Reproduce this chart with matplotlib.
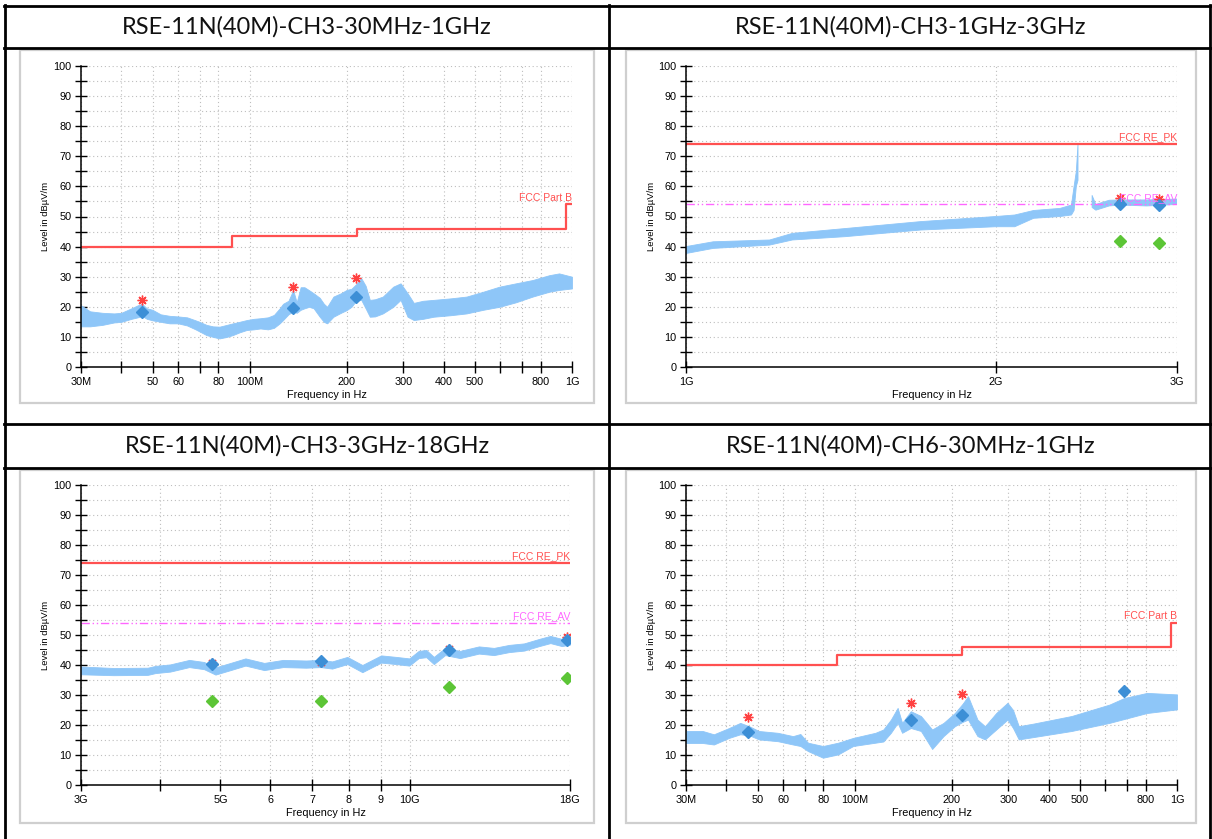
import numpy as np
import matplotlib
matplotlib.use("Agg")
import matplotlib.pyplot as plt
from matplotlib.lines import Line2D
from matplotlib.patches import Rectangle
from matplotlib.ticker import NullLocator

W, H = 1212, 839

# ---------------- data ----------------
titles = ["RSE-11N(40M)-CH3-30MHz-1GHz", "RSE-11N(40M)-CH3-1GHz-3GHz",
          "RSE-11N(40M)-CH3-3GHz-18GHz", "RSE-11N(40M)-CH6-30MHz-1GHz"]

# chart 1: CH3 30MHz-1GHz (MHz, dBuV/m)
c1_freq = [30, 32, 35, 38, 40, 43, 45, 46.4, 48, 50, 53, 56.5, 60, 64, 68, 70, 73.5, 77, 80.7, 85,
           88.7, 93, 98, 103, 108, 114, 119, 124, 127, 132, 136.5, 140, 144, 148, 153, 158, 165,
           170, 174, 182, 192, 200, 207, 214, 222, 229, 236, 245, 259, 279, 294, 309, 323, 345,
           372, 420, 471, 530, 596, 670, 755, 850, 912, 1000]
c1_low = [13.5, 13.5, 14, 14.8, 15, 16, 16.5, 17, 16, 15.5, 15, 14.5, 14.5, 13.8, 12.5, 11.8, 10.6,
          10, 9.5, 10, 10.6, 11.5, 12.3, 12.5, 12.8, 12.5, 13, 14.5, 15.6, 17.5, 18.5, 18, 19, 19.5,
          20, 19.5, 16.7, 15, 14.5, 16.7, 18, 18.9, 20, 22, 22.3, 19.5, 16.7, 16.8, 17.8, 20, 22.3,
          16.7, 15.6, 16, 16.7, 17.2, 17.8, 19, 20, 21.5, 23.4, 25, 25.6, 26.1]
c1_high = [20.5, 18.5, 18, 17.8, 18, 19.5, 20.5, 21, 19.5, 19, 17.5, 17, 16.8, 16.5, 15.5, 15, 14,
           13.5, 13.4, 14, 14.5, 15, 15.6, 16, 16.2, 16.5, 17.3, 19.5, 21, 22, 25.5, 21.5, 26.5,
           26.5, 25.5, 24.5, 23, 21, 20, 23.4, 24.5, 25.6, 26, 27.5, 29.5, 27, 22.3, 22.5, 23.4,
           26.7, 27.8, 24.5, 21.3, 22, 22.3, 22.8, 23.4, 25, 26.7, 27.8, 28.9, 30.5, 31.1, 30]
c1_lim_edges = [30, 88, 216, 960, 1000]
c1_lim_vals = [40, 43.5, 46, 54, 54]
c1_mk_freq = [46.4, 136.5, 214]
c1_mk_qp = [18.2, 19.5, 23.4]
c1_mk_pk = [22.3, 26.7, 29.5]

# chart 2: CH3 1GHz-3GHz (GHz)
c2_freq = [1.0, 1.063, 1.206, 1.269, 1.428, 1.69, 2.0, 2.087, 2.177, 2.31, 2.369, 2.383, 2.395, 2.404,
           np.nan, 2.481, 2.502, 2.578, 2.643, 2.804, 3.0]
c2_low = [37.7, 39.4, 40.5, 42.2, 43.3, 45.5, 46.6, 46.6, 49.4, 50, 50.5, 52, 60, 62,
          np.nan, 53, 52.1, 53.5, 53.8, 53.5, 54]
c2_high = [40, 41.6, 42.2, 44.4, 46, 48.3, 50, 50.5, 52, 52.7, 53.8, 60, 65, 74,
           np.nan, 57, 54, 55.4, 55.5, 55.5, 55.8]
c2_pk_limit = 74
c2_av_limit = 54
c2_mk_freq = [2.643, 2.881]
c2_mk_pk = [54.3, 53.8]
c2_mk_av = [42.0, 41.3]
c2_mk_star = [56.3, 55.9]

# chart 3: CH3 3GHz-18GHz (GHz)
c3_freq = [3.0, 3.38, 3.83, 3.94, 4.16, 4.46, 4.71, 4.91, 5.19, 5.48, 5.87, 6.29, 6.84, 7.22, 7.53,
           7.96, 8.41, 9.01, 9.52, 9.99, 10.34, 10.63, 10.93, 11.39, 12.03, 12.89, 13.62, 14.4,
           15.21, 16.08, 16.75, 17.47, 18.0]
c3_low = [36.9, 36.6, 36.7, 37.3, 37.8, 39.3, 38.6, 36.8, 38.3, 39.8, 38.3, 39.3, 39.1, 39.3, 38.8,
          40.3, 37.6, 40.8, 40.3, 39.8, 42.3, 42.6, 40.3, 43.3, 42.3, 43.8, 43.3, 44.3, 44.8, 46.3,
          47.3, 46.3, 46.8]
c3_high = [39.5, 39.0, 39.1, 39.7, 40.2, 41.7, 41.0, 39.2, 40.7, 42.2, 40.7, 41.7, 41.5, 41.7, 41.2,
           42.7, 40.0, 43.2, 42.7, 42.2, 44.7, 45.0, 42.7, 45.7, 44.7, 46.2, 45.7, 46.7, 47.2, 48.7,
           49.7, 48.7, 49.2]
c3_pk_limit = 74
c3_av_limit = 54
c3_mk_freq = [4.85, 7.24, 11.56, 17.82]
c3_mk_pk = [40.4, 41.4, 45.1, 48.5]
c3_mk_av = [28.0, 28.0, 32.7, 35.6]
c3_mk_star = [40.6, 41.0, 45.3, 49.3]

# chart 4: CH6 30MHz-1GHz (MHz)
c4_freq = [30, 33.8, 36.6, 40.8, 44.2, 47.3, 50.5, 57.8, 64.4, 67.9, 71.7, 79.8, 88.9, 99, 116,
           122.8, 129.6, 136, 140.4, 149.4, 160.6, 174, 188.7, 204.6, 216, 224.8, 240.5, 253.8,
           275, 298, 310, 323, 360, 471, 617, 686, 807, 1000]
c4_low = [14, 14, 13.5, 15.7, 16.9, 16.5, 15.2, 14.6, 13.5, 13, 11.3, 9.1, 10.2, 13, 14.1, 14.5,
          17.4, 20.7, 17.4, 19, 18, 12, 16.3, 19.6, 21, 21.8, 16.3, 15.2, 18.5, 21.8, 19, 15.2,
          16, 18, 20.7, 22, 24, 25.2]
c4_high = [18, 18, 16.9, 19, 20.7, 19.5, 18, 17.4, 16.3, 17, 14.1, 13, 14.1, 15.7, 17.4, 18.5,
           21.8, 25.7, 20.7, 24.6, 23, 18.5, 20.7, 24, 27, 29.6, 21.8, 19.6, 24, 27.4, 25, 19.6,
           20.5, 23, 26.8, 29, 30.7, 30.2]
c4_lim_edges = [30, 88, 216, 960, 1000]
c4_lim_vals = [40, 43.5, 46, 54, 54]
c4_mk_freq = [46.6, 149.4, 216, 686]
c4_mk_qp = [17.6, 21.6, 23.2, 31.5]
c4_mk_pk = [22.6, 27.2, 30.3, np.nan]

# tick definitions (values in Hz)
ticks_30m = [30e6, 40e6, 50e6, 60e6, 70e6, 80e6, 100e6, 200e6, 300e6, 400e6, 500e6, 600e6,
             700e6, 800e6, 1e9]
labels_30m = ["30M", "", "50", "60", "", "80", "100M", "200", "300", "400", "500", "", "",
              "800", "1G"]
ticks_1g = [1e9, 2e9, 3e9]
labels_1g = ["1G", "2G", "3G"]
ticks_3g = [3e9, 4e9, 5e9, 6e9, 7e9, 8e9, 9e9, 10e9, 18e9]
labels_3g = ["3G", "", "5G", "6", "7", "8", "9", "10G", "18G"]

# ---------------- styles ----------------
TRACE = "#8EC6F8"
LIMIT = "#FF5050"
AVC = "#FF66FF"
BLUE = "#3D8FD6"
GREEN = "#5CC536"
GRID = "#BEBEBE"

fig = plt.figure(figsize=(W / 100, H / 100), dpi=100)
fig.patch.set_facecolor("white")


def fx(x):
    return x / W


def fy(y):
    return 1 - y / H


def hline(y, x0, x1, lw=2.0):
    fig.add_artist(Line2D([fx(x0), fx(x1)], [fy(y), fy(y)], color="black", lw=lw,
                          transform=fig.transFigure))


def vline(x, y0, y1, lw=2.0):
    fig.add_artist(Line2D([fx(x), fx(x)], [fy(y0), fy(y1)], color="black", lw=lw,
                          transform=fig.transFigure))


# table grid
for yy in (6, 48, 424, 468):
    hline(yy, 4, 1212)
for xx in (5, 609, 1210):
    vline(xx, 5, 839)

# titles
title_pos = [(307, 27), (911, 27), (307, 446), (911, 446)]
for t, (tx, ty) in zip(titles, title_pos):
    fig.text(fx(tx), fy(ty), t, ha="center", va="center", fontsize=17,
             family="Lato", color="#111111")

# panels
panels = [(20, 50, 594, 403), (626, 50, 1196, 403), (20, 470, 594, 823), (626, 470, 1196, 823)]
for (px0, py0, px1, py1) in panels:
    fig.add_artist(Rectangle((fx(px0), fy(py1)), fx(px1 - px0), (py1 - py0) / H,
                             transform=fig.transFigure, fill=False, edgecolor="#CFCFCF", lw=1.6))

axes_px = [(81, 66, 572, 367), (686, 66, 1177, 367), (81, 485, 570, 785), (686, 485, 1177, 785)]


def make_axes(box, xmin, xmax, ticks, labels):
    x0, y0, x1, y1 = box
    ax = fig.add_axes([fx(x0), fy(y1), (x1 - x0) / W, (y1 - y0) / H])
    ax.set_xscale("log")
    ax.set_xlim(xmin, xmax)
    ax.set_ylim(0, 100)
    ax.set_xticks(ticks)
    ax.set_xticklabels(labels)
    ax.xaxis.set_minor_locator(NullLocator())
    ax.set_yticks(range(0, 101, 10))
    ax.set_yticks(range(5, 100, 10), minor=True)
    for s in ("top", "right"):
        ax.spines[s].set_visible(False)
    for s in ("left", "bottom"):
        ax.spines[s].set_linewidth(1.1)
        ax.spines[s].set_zorder(5)
    ax.tick_params(axis="both", which="both", direction="inout", length=8, width=1.0,
                   labelsize=7.8, pad=3)
    for lab in ax.get_xticklabels() + ax.get_yticklabels():
        lab.set_family("Liberation Sans")
    ax.grid(True, which="both", linestyle=(0, (1, 2.5)), color=GRID, lw=0.8)
    ax.set_axisbelow(True)
    ax.patch.set_alpha(0)
    cx = (x0 + x1) / 2
    fig.text(fx(cx), fy(y1 + 28), "Frequency in Hz", ha="center", va="center",
             fontsize=7.8, family="Liberation Sans")
    fig.text(fx(x0 - 35), fy((y0 + y1) / 2), "Level in dB\u00b5V/m", ha="center", va="center",
             rotation=90, fontsize=6.8, family="Liberation Sans")
    return ax


def limit_text(ax, xmax, y, text, color):
    ax.text(xmax, y + 0.6, text, ha="right", va="bottom", color=color, fontsize=7.5,
            family="Liberation Sans", zorder=6)


# ---- chart 1 ----
ax1 = make_axes(axes_px[0], 30e6, 1e9, ticks_30m, labels_30m)
f1 = np.array(c1_freq) * 1e6
ax1.fill_between(f1, c1_low, c1_high, color=TRACE, lw=0.6, edgecolor=TRACE, zorder=2)
ax1.step(np.array(c1_lim_edges) * 1e6, c1_lim_vals, where="post", color=LIMIT, lw=1.6, zorder=3)
limit_text(ax1, 1e9, 54, "FCC Part B", LIMIT)
ax1.plot(np.array(c1_mk_freq) * 1e6, c1_mk_pk, ls="none", marker=(8, 2, 0), ms=7,
         mec="#FF4040", mew=1.0, zorder=4)
ax1.plot(np.array(c1_mk_freq) * 1e6, c1_mk_qp, ls="none", marker="D", ms=6, mfc=BLUE,
         mec=BLUE, zorder=5)

# ---- chart 2 ----
ax2 = make_axes(axes_px[1], 1e9, 3e9, ticks_1g, labels_1g)
f2 = np.array(c2_freq) * 1e9
ax2.fill_between(f2, c2_low, c2_high, color=TRACE, lw=0.6, edgecolor=TRACE, zorder=2)
ax2.axhline(c2_pk_limit, color=LIMIT, lw=1.6, zorder=3)
ax2.axhline(c2_av_limit, color=AVC, lw=1.0, ls=(0, (6, 2, 1, 2, 1, 2)), zorder=3)
limit_text(ax2, 3e9, c2_pk_limit, "FCC RE_PK", LIMIT)
limit_text(ax2, 3e9, c2_av_limit, "FCC RE_AV", AVC)
ax2.plot(np.array(c2_mk_freq) * 1e9, c2_mk_star, ls="none", marker=(8, 2, 0), ms=7,
         mec="#FF4040", mew=1.0, zorder=4)
ax2.plot(np.array(c2_mk_freq) * 1e9, c2_mk_pk, ls="none", marker="D", ms=6, mfc=BLUE,
         mec=BLUE, zorder=5)
ax2.plot(np.array(c2_mk_freq) * 1e9, c2_mk_av, ls="none", marker="D", ms=6, mfc=GREEN,
         mec=GREEN, zorder=5)

# ---- chart 3 ----
ax3 = make_axes(axes_px[2], 3e9, 18e9, ticks_3g, labels_3g)
f3 = np.array(c3_freq) * 1e9
ax3.fill_between(f3, c3_low, c3_high, color=TRACE, lw=0.6, edgecolor=TRACE, zorder=2)
ax3.axhline(c3_pk_limit, color=LIMIT, lw=1.6, zorder=3)
ax3.axhline(c3_av_limit, color=AVC, lw=1.0, ls=(0, (6, 2, 1, 2, 1, 2)), zorder=3)
limit_text(ax3, 18e9, c3_pk_limit, "FCC RE_PK", LIMIT)
limit_text(ax3, 18e9, c3_av_limit, "FCC RE_AV", AVC)
ax3.plot(np.array(c3_mk_freq) * 1e9, c3_mk_star, ls="none", marker=(8, 2, 0), ms=7,
         mec="#FF4040", mew=1.0, zorder=4)
ax3.plot(np.array(c3_mk_freq) * 1e9, c3_mk_pk, ls="none", marker="D", ms=6, mfc=BLUE,
         mec=BLUE, zorder=5)
ax3.plot(np.array(c3_mk_freq) * 1e9, c3_mk_av, ls="none", marker="D", ms=6, mfc=GREEN,
         mec=GREEN, zorder=5)

# ---- chart 4 ----
ax4 = make_axes(axes_px[3], 30e6, 1e9, ticks_30m, labels_30m)
f4 = np.array(c4_freq) * 1e6
ax4.fill_between(f4, c4_low, c4_high, color=TRACE, lw=0.6, edgecolor=TRACE, zorder=2)
ax4.step(np.array(c4_lim_edges) * 1e6, c4_lim_vals, where="post", color=LIMIT, lw=1.6, zorder=3)
limit_text(ax4, 1e9, 54, "FCC Part B", LIMIT)
ax4.plot(np.array(c4_mk_freq) * 1e6, c4_mk_pk, ls="none", marker=(8, 2, 0), ms=7,
         mec="#FF4040", mew=1.0, zorder=4)
ax4.plot(np.array(c4_mk_freq) * 1e6, c4_mk_qp, ls="none", marker="D", ms=6, mfc=BLUE,
         mec=BLUE, zorder=5)

fig.savefig("out.png", dpi=100, facecolor="white")
